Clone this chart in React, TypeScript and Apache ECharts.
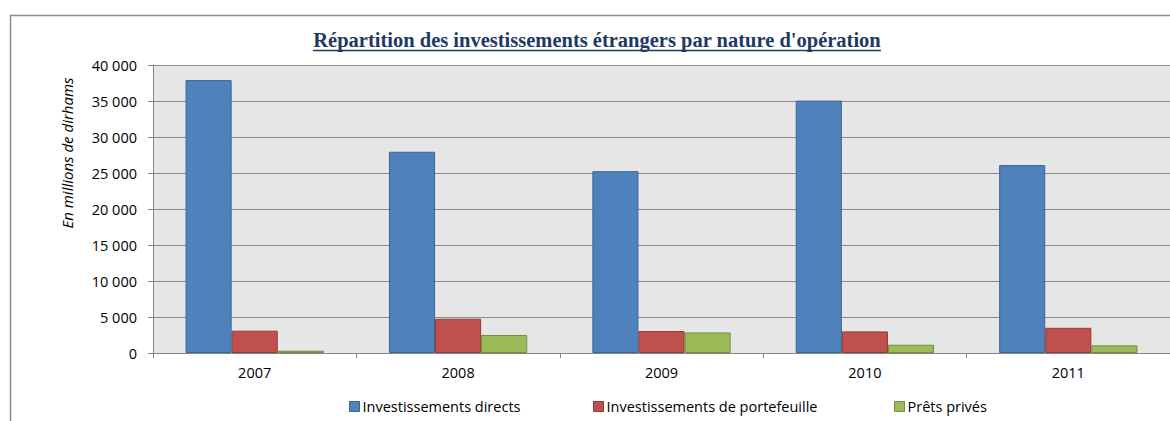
import React, { useEffect, useRef } from "react";
import * as echarts from "echarts";

const years = ["2007", "2008", "2009", "2010", "2011"];
const directs = [37900, 27950, 25250, 35050, 26100];
const portefeuille = [3100, 4760, 3050, 3000, 3500];
const prets = [320, 2500, 2860, 1150, 1060];
const seriesNames = ["Investissements directs", "Investissements de portefeuille", "Prêts privés"];
const colors = ["#4F81BD", "#C0504D", "#9BBB59"];
const borders = ["#3A6595", "#8E3B39", "#748C43"];
const titleText = "Répartition des investissements étrangers par nature d'opération";
const yName = "En millions de dirhams";

const FONT = '"Open Sans", "Noto Sans", sans-serif';
const legendLefts = [344, 588, 889];

export default function App() {
  const ref = useRef<HTMLDivElement>(null);
  useEffect(() => {
    if (!ref.current) return;
    const chart = echarts.init(ref.current, null, { renderer: "svg" });
    const data = [directs, portefeuille, prets];
    chart.setOption({
      animation: false,
      backgroundColor: "#ffffff",
      textStyle: { fontFamily: FONT },
      grid: {
        left: 153,
        top: 65,
        width: 1019,
        bottom: 68,
        show: true,
        backgroundColor: "#E6E6E6",
        borderWidth: 0,
      },
      legend: seriesNames.map((n, i) => ({
        left: legendLefts[i],
        top: 394,
        itemWidth: 10,
        itemHeight: 10,
        icon: "rect",
        textStyle: { fontFamily: FONT, fontSize: 14.5, color: "#000", padding: [0, 0, 0, -2] },
        data: [
          {
            name: n,
            itemStyle: { color: colors[i], borderColor: borders[i], borderWidth: 1 },
          },
        ],
      })),
      xAxis: {
        type: "category",
        data: years,
        axisLine: { lineStyle: { color: "#868686", width: 1 } },
        axisTick: { show: true, length: 5, lineStyle: { color: "#868686" } },
        axisLabel: { color: "#000", fontSize: 14.5, fontFamily: FONT, margin: 12 },
      },
      yAxis: {
        type: "value",
        min: 0,
        max: 40000,
        interval: 5000,
        axisLine: { show: true, lineStyle: { color: "#868686", width: 1 } },
        axisTick: { show: true, length: 5, lineStyle: { color: "#868686" } },
        axisLabel: {
          color: "#000",
          fontSize: 14.5,
          fontFamily: FONT,
          margin: 16,
          formatter: (v: number) => String(v).replace(/\B(?=(\d{3})+(?!\d))/g, " "),
        },
        splitLine: { lineStyle: { color: "#8C8C8C", width: 1 } },
      },
      series: seriesNames.map((n, i) => ({
        name: n,
        type: "bar",
        data: data[i],
        barGap: "0%",
        barCategoryGap: "32%",
        itemStyle: { color: colors[i], borderColor: borders[i], borderWidth: 1 },
      })),
      graphic: [
        {
          type: "rect",
          shape: { x: 10.5, y: 15.5, width: 1200, height: 500 },
          style: { fill: "none", stroke: "#8C8C8C", lineWidth: 1.5 },
          silent: true,
        },
        {
          type: "text",
          x: 597,
          y: 40,
          style: {
            text: titleText,
            font: 'bold 20.5px "Liberation Serif", "Times New Roman", serif',
            fill: "#1F3864",
            textAlign: "center",
            textVerticalAlign: "middle",
          },
        },
        {
          type: "line",
          shape: { x1: 313, y1: 50.5, x2: 881, y2: 50.5 },
          style: { stroke: "#1F3864", lineWidth: 1.5 },
        },
        {
          type: "text",
          x: 67,
          y: 153,
          rotation: Math.PI / 2,
          style: {
            text: yName,
            font: 'italic 15px "Open Sans", "Noto Sans", sans-serif',
            fill: "#000",
            textAlign: "center",
            textVerticalAlign: "middle",
          },
        },
      ],
    });
    return () => chart.dispose();
  }, []);
  return (
    <div
      ref={ref}
      style={{ position: "fixed", left: 0, top: 0, width: 1170, height: 421, background: "#fff" }}
    />
  );
}
